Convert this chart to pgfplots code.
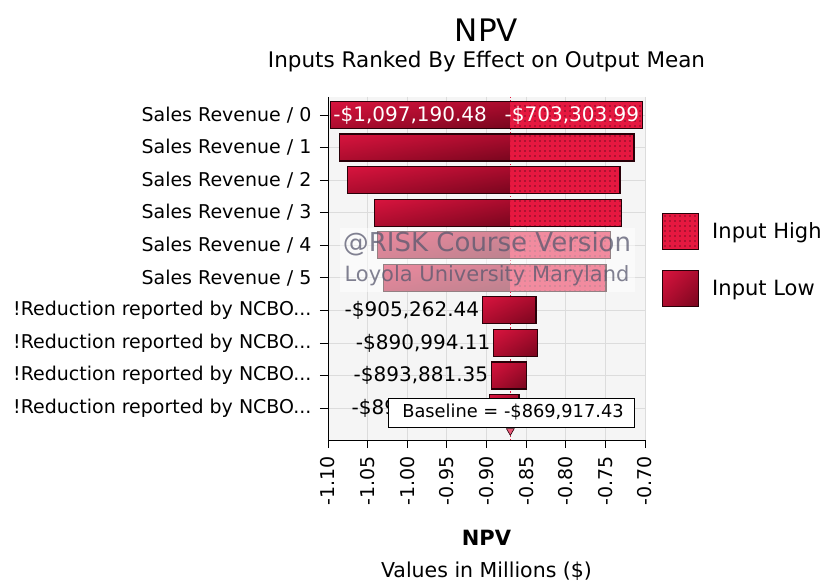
\documentclass[border=0pt]{standalone}
\usepackage{fontspec}
\setmainfont{DejaVu Sans}
\usepackage{pgfplots}
\pgfplotsset{compat=1.18}
\usetikzlibrary{patterns.meta,shadings}

\definecolor{lowA}{RGB}{216,20,62}
\definecolor{lowB}{RGB}{172,12,46}
\definecolor{lowC}{RGB}{120,6,30}
\definecolor{hired}{RGB}{230,24,64}
\definecolor{plotbg}{RGB}{245,245,245}
\definecolor{gridc}{RGB}{220,220,220}
\definecolor{wm}{RGB}{88,88,110}
\definecolor{edge}{RGB}{40,0,8}
\definecolor{markpink}{RGB}{232,90,120}
\newcommand{\fs}[1]{\fontsize{#1bp}{#1bp}\selectfont}
\newcommand{\ncbo}{!Reduction reported by NCBO.{}.{}.}

\tikzset{
  lowbar/.style={draw=none, upper left=lowA, upper right=lowB, lower left=lowB, lower right=lowC},
  highbar/.style={draw=none, fill=hired, postaction={pattern color=black, pattern={Dots[distance=5bp, radius=0.65bp]}}},
  outl/.style={draw=edge, line width=1.1bp, fill=none},
}
\pgfplotsset{
  lowplot/.style={lowbar, forget plot},
  highplot/.style={highbar, forget plot},
  outplot/.style={outl, forget plot},
}

\begin{document}
\begin{tikzpicture}
\begin{axis}[
  at={(0,0)}, anchor=south west,
  scale only axis, width=317bp, height=343bp,
  xmin=-1.10, xmax=-0.70,
  ymin=-0.55, ymax=9.98, y dir=reverse,
  xtick={-1.10,-1.05,-1.00,-0.95,-0.90,-0.85,-0.80,-0.75,-0.70},
  xticklabels={-1.10,-1.05,-1.00,-0.95,-0.90,-0.85,-0.80,-0.75,-0.70},
  ytick={0,1,2,3,4,5,6,7,8,9},
  yticklabels={Sales Revenue / 0, Sales Revenue / 1, Sales Revenue / 2,
    Sales Revenue / 3, Sales Revenue / 4, Sales Revenue / 5,
    \ncbo, \ncbo, \ncbo, \ncbo},
  xticklabel style={font=\fs{19}, rotate=90, anchor=east},
  yticklabel style={font=\fs{19}},
  xticklabel shift=5bp, yticklabel shift=5bp,
  tick align=outside, major tick length=8bp,
  tick style={black, line width=0.8bp},
  axis x line*=bottom, axis y line*=left,
  axis line style={black, line width=0.9bp},
  axis background/.style={fill=plotbg},
  grid=major, major grid style={gridc, line width=0.8bp},
  clip=false,
  legend style={at={(1.045,0.525)}, anchor=west, draw=none, fill=none,
    font=\fs{21}, row sep=20bp, column sep=11bp, cells={anchor=west}},
  legend image code/.code={\draw[#1, draw=edge, line width=0.8bp] (0bp,-18bp) rectangle (36bp,18bp);},
]
\addlegendimage{highbar}
\addlegendentry{Input High}
\addlegendimage{lowbar}
\addlegendentry{Input Low}

% baseline
\addplot[forget plot, color=hired, line width=0.9bp, dash pattern=on 1.2bp off 2bp]
  coordinates {(-0.86991743,-0.55) (-0.86991743,9.98)};

% Input Low parts (low value to baseline)
\addplot[lowplot] coordinates {(-1.09719048,-0.414) (-0.86991743,-0.414) (-0.86991743,0.414) (-1.09719048,0.414)} -- cycle;
\addplot[lowplot] coordinates {(-1.0857,0.586) (-0.86991743,0.586) (-0.86991743,1.414) (-1.0857,1.414)} -- cycle;
\addplot[lowplot] coordinates {(-1.0756,1.586) (-0.86991743,1.586) (-0.86991743,2.414) (-1.0756,2.414)} -- cycle;
\addplot[lowplot] coordinates {(-1.0416,2.586) (-0.86991743,2.586) (-0.86991743,3.414) (-1.0416,3.414)} -- cycle;
\addplot[lowplot] coordinates {(-1.0378,3.586) (-0.86991743,3.586) (-0.86991743,4.414) (-1.0378,4.414)} -- cycle;
\addplot[lowplot] coordinates {(-1.0302,4.586) (-0.86991743,4.586) (-0.86991743,5.414) (-1.0302,5.414)} -- cycle;
\addplot[lowplot] coordinates {(-0.90526244,5.586) (-0.8375,5.586) (-0.8375,6.414) (-0.90526244,6.414)} -- cycle;
\addplot[lowplot] coordinates {(-0.89099411,6.586) (-0.8354,6.586) (-0.8354,7.414) (-0.89099411,7.414)} -- cycle;
\addplot[lowplot] coordinates {(-0.89388135,7.586) (-0.8493,7.586) (-0.8493,8.414) (-0.89388135,8.414)} -- cycle;
\addplot[lowplot] coordinates {(-0.8965,8.586) (-0.8590,8.586) (-0.8590,9.414) (-0.8965,9.414)} -- cycle;

% Input High parts (baseline to high value)
\addplot[highplot] coordinates {(-0.86991743,-0.414) (-0.70330399,-0.414) (-0.70330399,0.414) (-0.86991743,0.414)} -- cycle;
\addplot[highplot] coordinates {(-0.86991743,0.586) (-0.7139,0.586) (-0.7139,1.414) (-0.86991743,1.414)} -- cycle;
\addplot[highplot] coordinates {(-0.86991743,1.586) (-0.7315,1.586) (-0.7315,2.414) (-0.86991743,2.414)} -- cycle;
\addplot[highplot] coordinates {(-0.86991743,2.586) (-0.7294,2.586) (-0.7294,3.414) (-0.86991743,3.414)} -- cycle;
\addplot[highplot] coordinates {(-0.86991743,3.586) (-0.7433,3.586) (-0.7433,4.414) (-0.86991743,4.414)} -- cycle;
\addplot[highplot] coordinates {(-0.86991743,4.586) (-0.7492,4.586) (-0.7492,5.414) (-0.86991743,5.414)} -- cycle;

% outlines of whole bars
\addplot[outplot] coordinates {(-1.09719048,-0.414) (-0.70330399,-0.414) (-0.70330399,0.414) (-1.09719048,0.414)} -- cycle;
\addplot[outplot] coordinates {(-1.0857,0.586) (-0.7139,0.586) (-0.7139,1.414) (-1.0857,1.414)} -- cycle;
\addplot[outplot] coordinates {(-1.0756,1.586) (-0.7315,1.586) (-0.7315,2.414) (-1.0756,2.414)} -- cycle;
\addplot[outplot] coordinates {(-1.0416,2.586) (-0.7294,2.586) (-0.7294,3.414) (-1.0416,3.414)} -- cycle;
\addplot[outplot] coordinates {(-1.0378,3.586) (-0.7433,3.586) (-0.7433,4.414) (-1.0378,4.414)} -- cycle;
\addplot[outplot] coordinates {(-1.0302,4.586) (-0.7492,4.586) (-0.7492,5.414) (-1.0302,5.414)} -- cycle;
\addplot[outplot] coordinates {(-0.90526244,5.586) (-0.8375,5.586) (-0.8375,6.414) (-0.90526244,6.414)} -- cycle;
\addplot[outplot] coordinates {(-0.89099411,6.586) (-0.8354,6.586) (-0.8354,7.414) (-0.89099411,7.414)} -- cycle;
\addplot[outplot] coordinates {(-0.89388135,7.586) (-0.8493,7.586) (-0.8493,8.414) (-0.89388135,8.414)} -- cycle;
\addplot[outplot] coordinates {(-0.8965,8.586) (-0.8590,8.586) (-0.8590,9.414) (-0.8965,9.414)} -- cycle;

% value labels
\node[anchor=west, white, font=\fs{20}, inner sep=3bp] at (axis cs:-1.09719048,0) {-\$1,097,190.48};
\node[anchor=east, white, font=\fs{20}, inner sep=3bp] at (axis cs:-0.70330399,0) {-\$703,303.99};
\node[anchor=east, font=\fs{20}, inner sep=3bp] at (axis cs:-0.90526244,6) {-\$905,262.44};
\node[anchor=east, font=\fs{20}, inner sep=3bp] at (axis cs:-0.89099411,7) {-\$890,994.11};
\node[anchor=east, font=\fs{20}, inner sep=3bp] at (axis cs:-0.89388135,8) {-\$893,881.35};
\node[anchor=east, font=\fs{20}, inner sep=3bp] at (axis cs:-0.8965,9) {-\$896,512.07};

% baseline marker
\addplot[forget plot, only marks, mark=triangle*, mark size=4.5bp,
  mark options={rotate=180, fill=markpink, draw=edge, line width=0.6bp}]
  coordinates {(-0.86991743,9.70)};
\end{axis}

% watermark
\fill[white, fill opacity=0.5] (12bp,148bp) rectangle (307bp,212bp);
\node[wm, text opacity=0.75, font=\fs{26}] at (159bp,196bp) {@RISK Course Version};
\node[wm, text opacity=0.75, font=\fs{21}] at (159bp,164bp) {Loyola University Maryland};

% baseline box
\draw[fill=white, draw=black, line width=0.8bp] (60bp,13bp) rectangle (306bp,42bp);
\node[font=\fs{17.8}] at (185bp,27.5bp) {Baseline = -\$869,917.43};

% titles
\node[font=\fs{31}] at (158.5bp,410bp) {NPV};
\node[font=\fs{21.5}] at (158.5bp,378bp) {Inputs Ranked By Effect on Output Mean};
\node[font=\bfseries\fs{21}] at (158.5bp,-98bp) {NPV};
\node[font=\fs{20.5}] at (158.5bp,-131bp) {Values in Millions (\$)};

% page frame
\path (-328bp,-146bp) rectangle (502bp,440bp);
\end{tikzpicture}
\end{document}
